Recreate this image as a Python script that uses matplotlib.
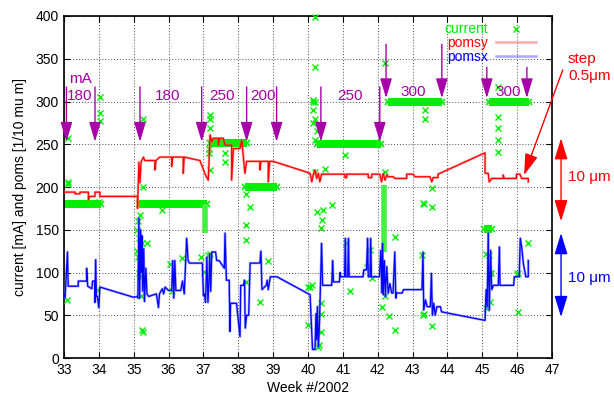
import matplotlib
matplotlib.use('Agg')
import matplotlib.pyplot as plt

plt.rcParams['font.family'] = ['Liberation Sans', 'DejaVu Sans']
plt.rcParams['font.size'] = 10

###########################################################
# data: (week, value) pairs
###########################################################

# pomsy (red), 1/10 um
pomsy_pts = [(33.0, 194), (33.32, 194), (33.32, 192), (33.46, 192), (33.46, 194), (33.70, 194),
             (33.70, 185), (33.74, 189), (33.89, 189), (33.89, 194), (34.03, 194), (34.03, 189),
             (35.11, 189), (35.11, 175), (35.15, 229), (35.18, 205), (35.21, 229), (35.28, 235),
             (35.32, 231), (35.61, 231), (35.61, 220), (35.64, 231), (35.75, 235), (36.09, 235),
             (36.09, 224), (36.12, 235), (36.42, 235), (36.42, 216), (36.45, 235), (36.90, 231),
             (37.06, 214), (37.14, 208), (37.19, 261), (37.24, 253), (37.28, 257), (37.43, 257),
             (37.43, 249), (37.46, 257), (37.57, 257), (37.62, 249), (37.81, 249), (37.81, 208),
             (37.86, 245), (38.05, 245), (38.10, 255), (38.19, 216), (38.24, 230), (38.62, 230),
             (38.62, 220), (38.65, 230), (38.86, 230), (38.86, 206), (38.9, 230), (39.0, 230),
             (39.77, 220), (40.06, 216), (40.11, 206), (40.15, 214), (40.2, 220), (40.25, 210),
             (40.3, 216), (40.34, 206), (40.39, 215), (41.06, 215), (41.06, 211), (41.11, 211),
             (41.11, 215), (41.73, 215), (41.73, 211), (41.83, 211), (41.83, 215), (42.06, 215),
             (42.11, 206), (42.16, 216), (42.21, 208), (42.26, 214), (42.3, 212), (42.45, 212),
             (42.49, 210), (42.83, 210), (42.83, 215), (43.02, 215), (43.07, 212), (43.5, 212),
             (43.55, 206), (43.59, 211), (43.73, 211), (43.73, 215), (45.08, 240), (45.08, 216),
             (45.17, 216), (45.2, 206), (45.27, 210), (45.6, 210), (45.6, 214), (45.63, 210),
             (45.98, 210), (45.98, 215), (46.08, 215), (46.13, 210), (46.32, 210), (46.32, 206)]

# pomsx (blue), 1/10 um
pomsx_pts = [(33.0, 75), (33.03, 70), (33.1, 124), (33.12, 84), (33.41, 84), (33.41, 90),
             (33.65, 90), (33.65, 105), (33.68, 84), (33.8, 81), (33.82, 90), (33.89, 90),
             (33.89, 65), (33.91, 115), (33.93, 72), (33.96, 72), (34.0, 59), (34.03, 83),
             (35.0, 71), (35.1, 72), (35.12, 70), (35.15, 164), (35.17, 70), (35.2, 150),
             (35.22, 100), (35.24, 143), (35.26, 78), (35.29, 128), (35.31, 66), (35.35, 105),
             (35.38, 75), (35.43, 72), (35.65, 75), (35.71, 59), (35.74, 75), (35.82, 81),
             (35.86, 75), (35.9, 83), (36.0, 79), (36.09, 79), (36.12, 114), (36.15, 70),
             (36.18, 114), (36.21, 79), (36.35, 79), (36.4, 90), (36.45, 75), (36.52, 140),
             (36.56, 114), (36.6, 111), (36.97, 111), (37.0, 73), (37.03, 75), (37.06, 65),
             (37.1, 118), (37.13, 65), (37.16, 90), (37.18, 122), (37.21, 78), (37.24, 124),
             (37.35, 124), (37.38, 114), (37.45, 114), (37.6, 105), (37.62, 146), (37.66, 91),
             (37.74, 91), (37.76, 31), (37.78, 64), (37.95, 64), (38.05, 25), (38.07, 85),
             (38.15, 85), (38.18, 91), (38.2, 35), (38.24, 50), (38.3, 50), (38.34, 111),
             (38.62, 111), (38.65, 125), (38.68, 80), (38.8, 85), (38.83, 91), (38.86, 80),
             (38.92, 95), (39.11, 95), (40.06, 74), (40.13, 10), (40.2, 10), (40.23, 52),
             (40.25, 21), (40.27, 60), (40.3, 13), (40.33, 41), (40.39, 134), (40.42, 85),
             (40.68, 85), (40.71, 114), (40.73, 89), (40.9, 89), (40.92, 100), (40.94, 95),
             (41.05, 95), (41.07, 140), (41.09, 95), (41.14, 95), (41.16, 140), (41.18, 95),
             (41.58, 95), (41.6, 103), (41.68, 103), (41.71, 140), (41.73, 95), (41.78, 95),
             (41.8, 140), (41.82, 95), (42.05, 95), (42.09, 126), (42.12, 76), (42.14, 134),
             (42.16, 74), (42.19, 114), (42.22, 72), (42.26, 107), (42.3, 76), (42.35, 87),
             (42.4, 76), (42.44, 76), (42.49, 124), (42.52, 70), (42.54, 76), (42.7, 76),
             (42.74, 80), (43.27, 80), (43.3, 124), (43.32, 56), (43.37, 68), (43.42, 60),
             (43.51, 60), (43.54, 99), (43.57, 50), (43.61, 64), (43.65, 50), (43.7, 60),
             (43.8, 60), (43.83, 54), (45.08, 44), (45.11, 80), (45.14, 60), (45.17, 146),
             (45.2, 56), (45.24, 126), (45.27, 80), (45.32, 85), (45.46, 85), (45.49, 130),
             (45.51, 85), (45.9, 85), (45.92, 95), (46.06, 95), (46.09, 140), (46.13, 130),
             (46.18, 110), (46.25, 95), (46.32, 95), (46.32, 114)]

# current (green), scattered readings in mA
cur_pts = [(33.12, 257), (33.12, 206), (33.12, 203), (33.08, 68), (33.94, 80), (34.03, 305),
           (34.03, 287), (34.03, 277), (34.0, 182), (35.27, 280), (35.27, 200), (35.18, 167),
           (35.13, 160), (35.1, 150), (35.15, 140), (35.1, 125), (35.13, 118), (35.2, 110),
           (35.15, 100), (35.18, 95), (35.23, 134), (35.37, 134), (35.23, 33), (35.27, 31),
           (35.2, 72), (35.8, 173), (36.05, 110), (36.1, 78), (36.4, 117), (36.93, 118),
           (37.13, 120), (37.18, 122), (37.02, 101), (37.19, 284), (37.19, 280), (37.19, 269),
           (37.19, 220), (37.15, 245), (37.15, 240), (37.62, 240), (37.62, 229), (38.22, 192),
           (38.22, 156), (38.22, 138), (38.34, 177), (38.22, 89), (38.62, 65), (38.86, 113),
           (40.0, 39), (40.0, 83), (40.05, 83), (40.12, 85), (40.2, 399), (40.2, 340),
           (40.15, 302), (40.15, 300), (40.2, 300), (40.15, 290), (40.2, 280), (40.15, 275),
           (40.25, 265), (40.2, 255), (40.25, 171), (40.43, 173), (40.69, 179), (40.4, 161),
           (40.37, 152), (40.5, 221), (40.2, 218), (40.37, 64), (40.37, 52), (40.37, 31),
           (40.3, 13), (40.33, 15), (41.06, 237), (41.1, 134), (41.2, 78), (41.78, 126),
           (41.7, 107), (41.83, 93), (42.2, 345), (42.2, 218), (42.12, 60), (42.2, 72),
           (42.33, 49), (42.5, 33), (42.5, 141), (43.36, 290), (43.36, 279), (43.3, 181),
           (43.33, 180), (43.56, 177), (43.56, 199), (43.27, 120), (43.3, 50), (43.33, 52),
           (43.56, 37), (45.45, 317), (45.45, 282), (45.45, 269), (45.45, 255), (45.45, 241),
           (45.1, 122), (45.22, 99), (45.22, 65), (45.12, 58), (45.2, 120), (45.25, 100),
           (46.03, 99), (46.0, 98), (46.03, 54), (46.3, 134)]

# stretches where current was logged densely at one level
band_start = [33.0, 35.15, 37.2, 38.2, 40.25, 42.3, 45.2, 45.05]
band_end = [34.05, 37.1, 38.25, 39.1, 42.1, 43.85, 46.35, 45.28]
band_level = [180, 180, 251, 200, 250, 300, 300, 151]
# dense ramps (week, from, to)
ramp_week = [37.05, 42.17]
ramp_top = [180, 202]
ramp_bottom = [146, 124]

# fill markers: week, arrow top, arrow tip
fill_week = [33.07, 33.89, 35.18, 36.95, 38.24, 39.1, 40.37, 42.06, 42.24, 43.84, 45.13, 46.28]
fill_top = [317, 317, 317, 317, 317, 317, 317, 317, 367, 367, 340, 340]
fill_tip = [253, 253, 253, 253, 253, 253, 253, 253, 304, 304, 304, 304]
fill_label = ['180', '180', '250', '200', '250', '300', '300']
fill_label_week = [33.46, 35.98, 37.53, 38.71, 41.2, 43.01, 45.74]
fill_label_y = [306, 306, 306, 306, 306, 311, 311]

###########################################################
# plot
###########################################################

green = '#00ee00'
magenta = '#a800a8'

fig = plt.figure(figsize=(6.14, 4.01), dpi=100)
ax = fig.add_axes([0.1042, 0.1072, 0.7948, 0.8529])

for s, e, v in zip(band_start, band_end, band_level):
    ax.plot([s, e], [v, v], color=green, lw=5.8, solid_capstyle='butt', zorder=2)
    ax.plot([s, e], [v, v], ls='none', marker='x', ms=5, mew=1.2, color=green, zorder=2)
for w, t, b in zip(ramp_week, ramp_top, ramp_bottom):
    ax.plot([w, w], [t, b], color='#44ee44', lw=4, solid_capstyle='butt', zorder=2)

cw, cv = zip(*cur_pts)
ax.plot(cw, cv, ls='none', marker='x', ms=5, mew=1, color=green,
        clip_on=False, zorder=3, label='current')

yw, yv = zip(*pomsy_pts)
xw, xv = zip(*pomsx_pts)
ax.plot(yw, yv, color='#ff7070', lw=1.8, alpha=0.6, zorder=4, label='pomsy')
ax.plot(yw, yv, color='red', lw=0.9, zorder=5)
ax.plot(xw, xv, color='#7070ff', lw=1.8, alpha=0.6, zorder=4, label='pomsx')
ax.plot(xw, xv, color='blue', lw=0.9, zorder=5)

head = '-|>,head_length=1.2,head_width=0.36'
for w, t, p in zip(fill_week, fill_top, fill_tip):
    ax.annotate('', xy=(w, p), xytext=(w, t),
                arrowprops=dict(arrowstyle=head, color=magenta, lw=1, mutation_scale=10,
                                shrinkA=0, shrinkB=0), zorder=6)
for lab, w, y in zip(fill_label, fill_label_week, fill_label_y):
    ax.text(w, y, lab, color=magenta, fontsize=11, ha='center', va='center', zorder=6)
ax.text(33.46, 326, 'mA', color=magenta, fontsize=11, ha='center', va='center')

# scale marks outside the frame
ax.annotate('', xy=(47.26, 160), xytext=(47.26, 257), annotation_clip=False,
            arrowprops=dict(arrowstyle='<|-|>,head_length=1.3,head_width=0.4', color='red',
                            lw=1, mutation_scale=10, shrinkA=0, shrinkB=0))
ax.annotate('', xy=(47.26, 48), xytext=(47.26, 146), annotation_clip=False,
            arrowprops=dict(arrowstyle='<|-|>,head_length=1.3,head_width=0.4', color='blue',
                            lw=1, mutation_scale=10, shrinkA=0, shrinkB=0))
ax.text(47.46, 212, '10 μm', color='red', fontsize=11, va='center', clip_on=False)
ax.text(47.46, 94, '10 μm', color='blue', fontsize=11, va='center', clip_on=False)
ax.text(47.46, 350, 'step', color='red', fontsize=11, va='center', clip_on=False)
ax.text(47.46, 330, '0.5μm', color='red', fontsize=11, va='center', clip_on=False)
ax.annotate('', xy=(46.2, 214), xytext=(47.31, 337), annotation_clip=False,
            arrowprops=dict(arrowstyle='-|>,head_length=1.3,head_width=0.4', color='red',
                            lw=1, mutation_scale=10, shrinkA=0, shrinkB=0))

ax.set_xlim(33, 47)
ax.set_ylim(0, 400)
ax.set_xticks(range(33, 48))
ax.set_yticks(range(0, 401, 50))
ax.tick_params(direction='in', top=True, right=True, length=4, labelsize=10)
ax.grid(True, color='0.3', linestyle=(0, (1, 2)), lw=0.7)
for sp in ax.spines.values():
    sp.set_linewidth(1.2)
ax.set_xlabel('Week #/2002', fontsize=10, labelpad=3)
ax.set_ylabel('current [mA] and poms [1/10 mu m]', fontsize=10, labelpad=6)

leg = ax.legend(loc='upper right', bbox_to_anchor=(0.968, 0.981), frameon=False, markerfirst=False,
                numpoints=1, handlelength=2.9, handletextpad=0.6, labelspacing=-0.03,
                borderpad=0, borderaxespad=0, fontsize=10,
                labelcolor=[green, 'red', 'blue'])

plt.savefig('out.png', dpi=100)
